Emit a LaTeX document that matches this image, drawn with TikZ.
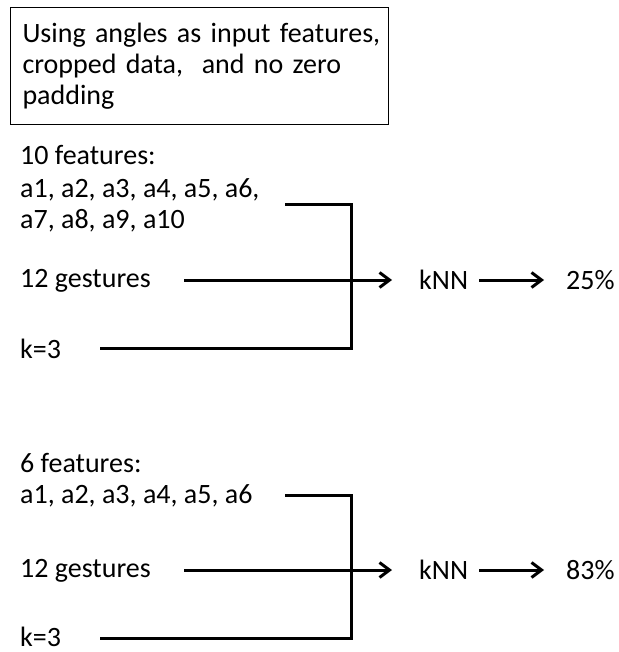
\documentclass[tikz,border=0pt]{standalone}
\usepackage{fontspec}
\setmainfont{Carlito}
\usetikzlibrary{arrows.meta}
\begin{document}
\begin{tikzpicture}[x=1pt,y=-1pt,
  txt/.style={anchor=base west, inner sep=0pt, font=\fontsize{28}{32}\selectfont},
  titlebox/.style={draw, line width=1pt, anchor=north west, text width=364pt,
    align=left, inner xsep=7pt, inner ysep=14pt, minimum height=117pt,
    font=\fontsize{28}{31}\selectfont},
  wire/.style={line width=3pt},
  arr/.style={wire, -{Straight Barb[length=10pt,width=15pt,line width=3pt]}}]
\useasboundingbox (0,0) rectangle (618,652);

% heading box
\node[titlebox] (title) at (10,7)
  {\hspace*{5pt}Using angles as input features,\\\hspace*{5pt}cropped data,\ \ and no zero\\\hspace*{5pt}padding};

% ---- first classifier: 10 features ----
\node[txt] (f1)   at (20,165) {10 features:};
\node[txt] (a1)   at (20,198) {a1, a2, a3, a4, a5, a6,};
\node[txt] (b1)   at (20,229) {a7, a8, a9, a10};
\node[txt] (g1)   at (20,287) {12 gestures};
\node[txt] (k1)   at (20,358) {k=3};
\node[txt] (knn1) at (419,289) {kNN};
\node[txt] (r1)   at (566,289) {25\%};

\coordinate (a1s) at (285,205);
\coordinate (a1c) at (351,205);
\coordinate (k1s) at (100,348);
\coordinate (k1c) at (351,348);
\coordinate (g1s) at (184,280);
\coordinate (g1e) at (392,280);
\coordinate (n1s) at (479,280);
\coordinate (n1e) at (544,280);

\draw[wire] (a1s) -- (a1c) -- (k1c) -- (k1s);
\draw[arr] (g1s) -- (g1e);
\draw[arr] (n1s) -- (n1e);

% ---- second classifier: 6 features ----
\node[txt] (f2)   at (20,472) {6 features:};
\node[txt] (a2)   at (20,503) {a1, a2, a3, a4, a5, a6};
\node[txt] (g2)   at (20,577) {12 gestures};
\node[txt] (k2)   at (20,646) {k=3};
\node[txt] (knn2) at (419,579) {kNN};
\node[txt] (r2)   at (566,579) {83\%};

\coordinate (a2s) at (285,495);
\coordinate (a2c) at (351,495);
\coordinate (k2s) at (100,638);
\coordinate (k2c) at (351,638);
\coordinate (g2s) at (184,570);
\coordinate (g2e) at (392,570);
\coordinate (n2s) at (479,570);
\coordinate (n2e) at (544,570);

\draw[wire] (a2s) -- (a2c) -- (k2c) -- (k2s);
\draw[arr] (g2s) -- (g2e);
\draw[arr] (n2s) -- (n2e);
\end{tikzpicture}
\end{document}
